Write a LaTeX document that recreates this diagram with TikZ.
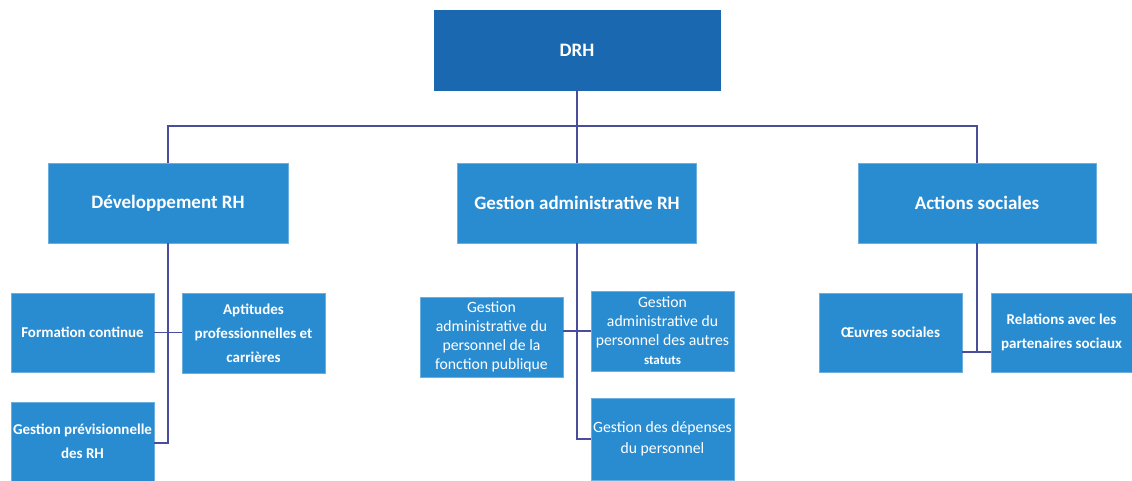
\documentclass[tikz,border=0pt]{standalone}
\usepackage{fontspec}
\setmainfont{Carlito}
\definecolor{boxblue}{HTML}{2A8CD0}
\definecolor{topblue}{HTML}{1A69B0}
\definecolor{linecol}{HTML}{4A4C9C}
\begin{document}
\begin{tikzpicture}[x=1pt,y=-1pt,
  box/.style={fill=boxblue,draw=boxblue!70!white,line width=0.6pt,inner sep=0pt,align=center,text=white,font=\bfseries\fontsize{15}{24}\selectfont},
  big/.style={font=\bfseries\fontsize{19}{22}\selectfont},
  thin/.style={font=\fontsize{15.7}{19}\selectfont},
  conn/.style={draw=linecol,line width=1.6pt}]
\useasboundingbox (0,0) rectangle (1132,481);
% top
\node[box,big,fill=topblue,draw=topblue,minimum width=286pt,minimum height=80pt] (drh) at (577,50) {DRH};
% level 1
\node[box,big,minimum width=240pt,minimum height=80pt] (dev) at (168,203) {Développement RH};
\node[box,big,minimum width=239pt,minimum height=80pt] (gad) at (577,203) {Gestion administrative RH};
\node[box,big,minimum width=238pt,minimum height=80pt] (act) at (977,203) {Actions sociales};
% level 2 left
\node[box,minimum width=143pt,minimum height=79pt] (form) at (82.5,332.5) {Formation continue};
\node[box,minimum width=143pt,minimum height=80pt] (apt) at (253.5,333) {Aptitudes\\professionnelles et\\carrières};
\node[box,minimum width=143pt,minimum height=79pt] (prev) at (82.5,441.5) {Gestion prévisionnelle\\des RH};
% level 2 centre
\node[box,thin,minimum width=143pt,minimum height=80pt] (fp) at (491.5,337) {Gestion\\administrative du\\personnel de la\\fonction publique};
\node[box,thin,minimum width=143pt,minimum height=80pt] (aut) at (662.5,331) {Gestion\\administrative du\\personnel des autres\\{\bfseries\fontsize{13}{19}\selectfont statuts}};
\node[box,thin,minimum width=143pt,minimum height=82pt,font=\fontsize{15.7}{21}\selectfont] (dep) at (662.5,439) {Gestion des dépenses\\du personnel};
% level 2 right
\node[box,minimum width=143pt,minimum height=79pt] (oeu) at (890.5,332.5) {Œuvres sociales};
\node[box,minimum width=141pt,minimum height=79pt] (rel) at (1061.5,332.5) {Relations avec les\\partenaires sociaux};
% connectors
\coordinate (bar) at (577,126);
\draw[conn] (drh.south) -- (bar);
\draw[conn] (dev.north) -- (dev.north |- bar) -- (act.north |- bar) -- (act.north);
\draw[conn] (bar) -- (gad.north);
% left branch
\coordinate (lj) at (168,443);
\draw[conn] (dev.south) -- (lj) -- (prev.east |- lj);
\draw[conn] (form.east) -- (apt.west |- form.east);
% centre branch
\coordinate (cj) at (577,439);
\draw[conn] (gad.south) -- (cj) -- (dep.west |- cj);
\draw[conn] (563,331) -- (591,331);
% right branch
\coordinate (rj) at (977,352);
\draw[conn] (act.south) -- (rj);
\draw[conn] (oeu.east |- rj) -- (rel.west |- rj);
\end{tikzpicture}
\end{document}
